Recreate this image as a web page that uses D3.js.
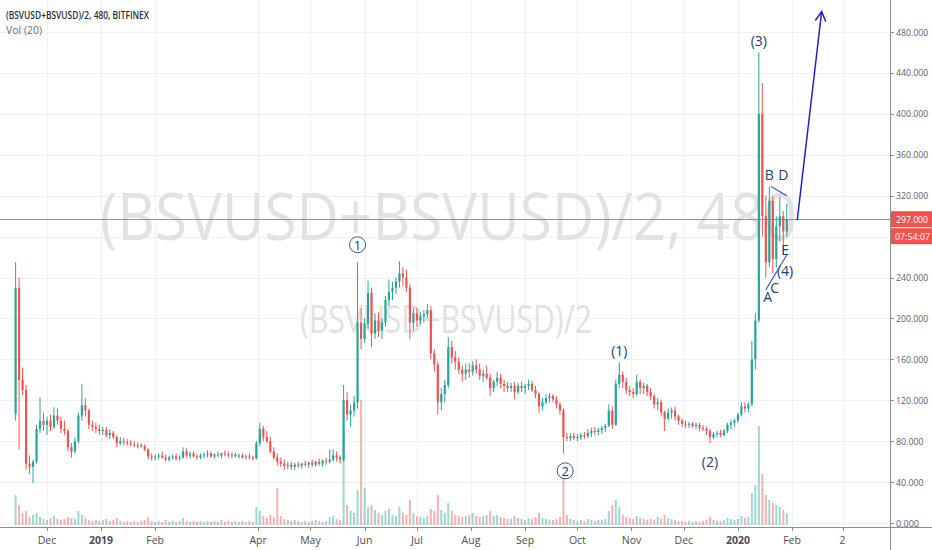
<!DOCTYPE html>
<html><head><meta charset="utf-8">
<script src="https://cdn.jsdelivr.net/npm/d3@7"></script>
<style>
html,body{margin:0;padding:0;background:#fff;}
svg{display:block;font-family:"Open Sans","DejaVu Sans",sans-serif;}
</style></head>
<body>
<svg id="c" width="932" height="550"></svg>
<script>
// ---------- DATA ----------
const title = "(BSVUSD+BSVUSD)/2, 480, BITFINEX";
const volLabel = "Vol (20)";
const firstCandle = "2018-11-13";   // 2-day candles
const candleDays = 2;
// [open, high, low, close]
const ohlc = [
[107,255,100,230],[230,240,72,140],[140,152,125,130],[130,135,52,58],[58,66,48,55],[55,62,39,60],[60,96,58,92],[92,123,88,100],
[100,108,90,96],[96,104,86,100],[100,106,90,94],[94,113,92,105],[105,112,96,100],[100,104,88,92],[92,100,86,90],[90,92,70,74],
[74,78,64,70],[70,84,68,80],[80,108,78,105],[105,136,100,115],[115,122,104,110],[110,112,92,96],[96,100,90,94],[94,98,88,92],
[92,96,86,90],[90,94,86,91],[91,94,84,86],[86,92,82,88],[88,90,82,84],[84,86,74,78],[78,84,76,80],[80,83,76,79],
[79,82,76,78],[78,81,75,77],[77,80,74,76],[76,79,73,76],[76,78,73,75],[75,77,70,72],[72,73,62,65],[65,68,61,64],
[64,67,61,65],[65,68,62,66],[66,70,63,64],[64,67,60,62],[62,66,60,64],[64,67,62,65],[65,68,61,63],[63,66,61,64],
[64,74,63,70],[70,73,64,66],[66,70,63,68],[68,70,64,65],[65,67,62,64],[64,68,62,66],[66,69,63,67],[67,71,64,68],
[68,70,64,65],[65,68,63,67],[67,70,64,66],[66,69,63,68],[68,71,65,67],[67,70,64,66],[66,69,63,67],[67,69,64,65],
[65,68,63,66],[66,68,63,64],[64,67,62,65],[65,68,62,64],[64,66,61,63],[63,80,62,78],[78,98,75,92],[92,95,80,84],
[84,90,78,80],[80,84,68,70],[70,74,62,64],[64,68,56,60],[60,64,55,58],[58,62,52,56],[56,60,53,57],[57,60,52,55],
[55,59,52,57],[57,60,54,56],[56,59,53,58],[58,61,55,57],[57,60,54,59],[59,62,55,57],[57,61,55,60],[60,63,56,58],
[58,62,55,61],[61,64,57,60],[60,72,58,62],[62,72,60,66],[66,70,60,64],[64,66,58,62],[62,135,60,120],[120,128,100,106],
[106,116,94,110],[110,124,104,118],[118,255,112,196],[196,210,170,180],[180,200,176,195],[195,237,190,225],[225,230,172,185],[185,205,180,198],
[198,206,182,188],[188,200,180,196],[196,222,192,218],[218,238,212,226],[226,236,218,230],[230,240,224,236],[236,256,230,244],[244,250,232,240],
[240,248,226,230],[230,234,180,196],[196,210,188,205],[205,210,192,198],[198,206,194,202],[202,208,196,204],[204,214,200,208],[208,212,160,166],
[166,170,148,155],[155,158,106,118],[118,132,110,126],[126,140,118,135],[135,182,132,172],[172,178,156,162],[162,168,150,158],[158,162,146,150],
[150,154,138,146],[146,156,140,150],[150,156,142,148],[148,158,144,154],[154,160,146,150],[150,156,140,144],[144,150,138,146],[146,154,140,142],
[142,146,124,132],[132,140,128,138],[138,148,134,142],[142,146,132,136],[136,140,128,134],[134,138,128,132],[132,137,128,134],[134,138,121,128],
[128,137,126,134],[134,138,128,132],[132,136,126,134],[134,140,130,136],[136,139,128,130],[130,134,122,126],[126,128,108,114],[114,122,110,118],
[118,126,116,122],[122,127,118,124],[124,126,118,121],[121,124,112,116],[116,118,106,110],[110,112,68,84],[84,88,80,83],[83,88,80,85],
[85,88,81,83],[83,87,80,84],[84,88,81,86],[86,89,82,85],[85,92,83,88],[88,93,84,90],[90,94,86,89],[89,93,86,91],
[91,95,87,93],[93,97,89,95],[95,116,94,110],[110,114,92,96],[96,140,95,136],[136,157,132,145],[145,148,132,138],[138,142,126,130],
[130,134,124,128],[128,132,122,126],[126,145,124,138],[138,140,126,132],[132,137,126,134],[134,136,124,128],[128,132,120,124],[124,126,112,116],
[116,122,110,118],[118,120,104,108],[108,110,90,102],[102,112,100,108],[108,113,102,110],[110,114,100,104],[104,106,96,100],[100,102,94,97],
[97,100,93,96],[96,99,93,97],[97,99,93,95],[95,98,92,96],[96,98,90,93],[93,96,90,92],[92,94,86,90],[90,92,78,84],
[84,89,82,87],[87,90,84,88],[88,91,84,86],[86,92,85,90],[90,98,88,96],[96,101,92,98],[98,102,94,100],[100,108,98,106],
[106,118,104,114],[114,118,108,112],[112,118,108,116],[116,178,114,160],[160,205,150,198],[198,460,196,400],[400,430,280,300],[300,320,240,255],
[255,329,250,315],[315,320,244,258],[258,300,250,290],[290,319,275,300],[300,305,262,285],[285,312,280,297]
];
const volumes = [
30,20,12,14,8,10,12,8,6,5,7,9,6,5,6,8,7,6,14,10,7,5,4,5,
4,5,6,4,5,7,4,3,4,3,4,3,4,5,8,4,3,4,3,5,3,4,3,4,
7,4,3,4,3,4,3,4,3,4,3,5,3,4,3,4,3,4,3,4,3,18,14,9,
7,10,8,37,9,6,5,4,5,4,3,4,3,4,5,4,3,4,8,9,6,5,95,20,
14,12,35,125,37,18,20,15,12,10,14,16,10,9,18,12,10,25,12,9,8,7,9,16,
14,30,15,12,22,14,10,9,8,9,10,12,9,8,9,10,14,9,10,8,7,6,6,9,
7,6,5,7,6,8,12,7,6,5,5,6,8,55,10,6,5,4,5,4,6,5,4,5,
5,6,14,20,25,18,10,8,7,6,9,7,6,5,6,5,8,6,10,7,6,5,4,4,
3,4,3,4,3,4,5,8,5,4,4,5,7,6,5,6,9,7,8,32,40,99,51,30,
25,22,20,18,15,12
];
const priceTicks = [0,40,80,120,160,200,240,280,320,360,400,440,480];
const timeTicks = [
 ["2018-12-01","Dec",false],["2019-01-01","2019",true],["2019-02-01","Feb",false],
 ["2019-04-01","Apr",false],["2019-05-01","May",false],["2019-06-01","Jun",false],
 ["2019-07-01","Jul",false],["2019-08-01","Aug",false],["2019-09-01","Sep",false],
 ["2019-10-01","Oct",false],["2019-11-01","Nov",false],["2019-12-01","Dec",false],
 ["2020-01-01","2020",true],["2020-02-01","Feb",false],["2020-03-01","2",false]
];
const lastPrice = 297;
const countdown = "07:54:07";
// wave annotations (text baseline): [date, price, text]
const waveLabels = [
 ["2019-10-25",163,"(1)"],["2019-12-16",55,"(2)"],["2020-01-13",466,"(3)"],
 ["2020-01-19",335,"B"],["2020-01-27",335,"D"],["2020-01-28",262,"E"],
 ["2020-01-28",241,"(4)"],["2020-01-18",216,"A"],["2020-01-22",225,"C"]
];
// circled labels: [date, price of circle centre, text]
const circleLabels = [["2019-05-28",272,"1"],["2019-09-24",51,"2"]];
// triangle lines and forecast arrow: [date, price]
const upperLine = [["2020-01-20",329],["2020-01-29",320]];
const lowerLine = [["2020-01-17",228],["2020-01-29",262]];
const arrowPts = [["2020-02-04",296],["2020-02-18",500]];

// ---------- SCALES ----------
const P = d3.timeParse("%Y-%m-%d");
const svg = d3.select("#c");
const W = 932, H = 550, axisX = 890, axisY = 527;
const x = d3.scaleTime().domain([P("2018-12-01"), P("2020-02-01")]).range([47, 792]);
const y = d3.scaleLinear().domain([0, 480]).range([523, 32]);
const yv = d3.scaleLinear().domain([0, 130]).range([525, 395]);
const start = P(firstCandle);
const data = ohlc.map((d,i)=>({date:d3.timeDay.offset(start, i*candleDays), o:d[0],h:d[1],l:d[2],c:d[3],v:volumes[i]||0}));

const up = "#26a69a", down = "#ef5350";

// grid
const grid = svg.append("g");
grid.selectAll("line.h").data(priceTicks).join("line")
  .attr("x1",0).attr("x2",axisX).attr("y1",d=>Math.round(y(d))+0.5).attr("y2",d=>Math.round(y(d))+0.5)
  .attr("stroke","#eef0f3");
grid.selectAll("line.v").data(timeTicks).join("line")
  .attr("x1",d=>Math.round(x(P(d[0])))+0.5).attr("x2",d=>Math.round(x(P(d[0])))+0.5)
  .attr("y1",0).attr("y2",axisY).attr("stroke","#eef0f3");

// watermarks
svg.append("text").attr("x",100).attr("y",240).attr("font-size",66)
  .attr("textLength",697).attr("lengthAdjust","spacingAndGlyphs")
  .attr("fill","#e1e2e4").text("(BSVUSD+BSVUSD)/2, 480");
svg.append("text").attr("x",300).attr("y",333).attr("font-size",38)
  .attr("textLength",292).attr("lengthAdjust","spacingAndGlyphs")
  .attr("fill","#e1e2e4").text("(BSVUSD+BSVUSD)/2");

// volume
svg.append("g").selectAll("rect").data(data).join("rect")
  .attr("x",d=>x(d.date)-1).attr("width",2)
  .attr("y",d=>yv(d.v)).attr("height",d=>yv(0)-yv(d.v))
  .attr("fill",d=>d.c>=d.o?up:down).attr("opacity",0.45);

// last price line
svg.append("line").attr("x1",0).attr("x2",axisX).attr("y1",Math.round(y(lastPrice))+0.5).attr("y2",Math.round(y(lastPrice))+0.5)
  .attr("stroke",down).attr("stroke-opacity",0.85);

// candles
const cg = svg.append("g");
cg.selectAll("line").data(data).join("line")
  .attr("x1",d=>x(d.date)).attr("x2",d=>x(d.date))
  .attr("y1",d=>y(d.h)).attr("y2",d=>y(d.l))
  .attr("stroke",d=>d.c>=d.o?up:down).attr("stroke-width",1);
cg.selectAll("rect").data(data).join("rect")
  .attr("x",d=>x(d.date)-1.1).attr("width",2.2)
  .attr("y",d=>y(Math.max(d.o,d.c))).attr("height",d=>Math.max(1,Math.abs(y(d.o)-y(d.c))))
  .attr("fill",d=>d.c>=d.o?up:down);

// annotations
const navy = "#1e3f6f";
const ann = svg.append("g");
ann.selectAll("text.w").data(waveLabels).join("text")
  .attr("x",d=>x(P(d[0]))).attr("y",d=>y(d[1]))
  .attr("text-anchor","middle").attr("font-size",14).attr("fill",navy).text(d=>d[2]);
const cl = ann.selectAll("g.c").data(circleLabels).join("g")
  .attr("transform",d=>`translate(${x(P(d[0]))},${y(d[1])})`);
cl.append("circle").attr("r",8).attr("fill","#fff").attr("stroke","#3d5a80").attr("stroke-width",1);
cl.append("text").attr("y",5).attr("text-anchor","middle").attr("font-size",13).attr("fill",navy).text(d=>d[2]);

const lineGen = d3.line().x(d=>x(P(d[0]))).y(d=>y(d[1]));
svg.append("path").attr("d",lineGen(upperLine)).attr("stroke","#4b4bd4").attr("fill","none").attr("stroke-width",1.2);
svg.append("path").attr("d",lineGen(lowerLine)).attr("stroke","#4b4bd4").attr("fill","none").attr("stroke-width",1.2);
svg.append("path").attr("d",lineGen(arrowPts)).attr("stroke","#2222cc").attr("fill","none").attr("stroke-width",1.5);
// arrow head
const ax1 = x(P(arrowPts[0][0])), ay1 = y(arrowPts[0][1]), ax2 = x(P(arrowPts[1][0])), ay2 = y(arrowPts[1][1]);
const ang = Math.atan2(ay2-ay1, ax2-ax1), hl = 11;
svg.append("path").attr("d",`M${ax2-hl*Math.cos(ang-0.5)},${ay2-hl*Math.sin(ang-0.5)}L${ax2},${ay2}L${ax2-hl*Math.cos(ang+0.5)},${ay2-hl*Math.sin(ang+0.5)}`)
  .attr("stroke","#2222cc").attr("fill","none").attr("stroke-width",1.5);

// axes
svg.append("rect").attr("x",axisX).attr("y",0).attr("width",W-axisX).attr("height",H).attr("fill","#fff");
svg.append("rect").attr("x",0).attr("y",axisY).attr("width",W).attr("height",H-axisY).attr("fill","#fff");
svg.append("line").attr("x1",axisX+0.5).attr("x2",axisX+0.5).attr("y1",0).attr("y2",H).attr("stroke","#8a8d93");
svg.append("line").attr("x1",0).attr("x2",W).attr("y1",axisY+0.5).attr("y2",axisY+0.5).attr("stroke","#8a8d93");
const fmt = d3.format(".3f");
const ya = svg.append("g");
ya.selectAll("line").data(priceTicks).join("line")
  .attr("x1",axisX).attr("x2",axisX+4).attr("y1",d=>Math.round(y(d))+0.5).attr("y2",d=>Math.round(y(d))+0.5).attr("stroke","#8a8d93");
ya.selectAll("text").data(priceTicks).join("text")
  .attr("x",axisX+6).attr("y",d=>y(d)+3.5).attr("font-size",9.5).attr("fill","#5d606b")
  .attr("textLength",d=>fmt(d).length*4.6).attr("lengthAdjust","spacingAndGlyphs")
  .text(d=>fmt(d));
const xa = svg.append("g");
xa.selectAll("line").data(timeTicks).join("line")
  .attr("x1",d=>Math.round(x(P(d[0])))+0.5).attr("x2",d=>Math.round(x(P(d[0])))+0.5)
  .attr("y1",axisY).attr("y2",axisY+4).attr("stroke","#8a8d93");
xa.selectAll("text").data(timeTicks).join("text")
  .attr("x",d=>x(P(d[0]))).attr("y",544).attr("text-anchor","middle")
  .attr("font-size",10.5).attr("font-weight",d=>d[2]?"bold":"normal").attr("fill","#4a4d57").text(d=>d[1]);

// last price boxes
const ly = y(lastPrice);
svg.append("rect").attr("x",axisX+1).attr("y",ly-8).attr("width",W-axisX-1).attr("height",16).attr("fill",down);
svg.append("text").attr("x",axisX+6).attr("y",ly+4).attr("font-size",9.5).attr("fill","#fff")
  .attr("textLength",32).attr("lengthAdjust","spacingAndGlyphs").text(fmt(lastPrice));
svg.append("rect").attr("x",axisX+1).attr("y",ly+9).attr("width",W-axisX-1).attr("height",16).attr("fill",down);
svg.append("text").attr("x",axisX+5).attr("y",ly+21).attr("font-size",9.5).attr("fill","#fff")
  .attr("textLength",35).attr("lengthAdjust","spacingAndGlyphs").text(countdown);

// header
svg.append("text").attr("x",6).attr("y",19).attr("font-size",11).attr("font-weight",600)
  .attr("textLength",143).attr("lengthAdjust","spacingAndGlyphs").attr("fill","#2a2e39").text(title);
svg.append("text").attr("x",6).attr("y",34).attr("font-size",10.5).attr("fill","#6a6d78").text(volLabel);
</script>
</body></html>
